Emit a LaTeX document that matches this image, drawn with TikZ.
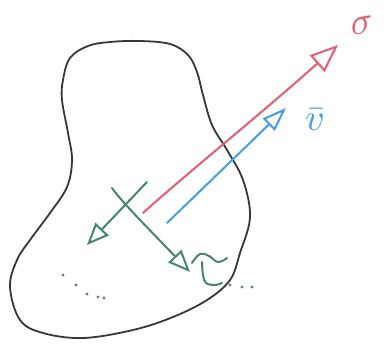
\documentclass[tikz,border=0pt]{standalone}
\usetikzlibrary{arrows.meta}
\definecolor{outl}{RGB}{55,55,55}
\definecolor{redp}{RGB}{232,92,112}
\definecolor{bluep}{RGB}{70,158,230}
\definecolor{greenp}{RGB}{70,133,113}
\definecolor{dotc}{RGB}{95,130,125}
\tikzset{
  sketch/.style={line width=2pt, line cap=round, line join=round},
  redarrow/.style={sketch, draw=redp, -{Triangle[open,length=28pt,width=22pt,line width=2pt]}},
  bluearrow/.style={sketch, draw=bluep, -{Triangle[open,length=24pt,width=17pt,line width=2pt]}},
  greenarrow/.style={sketch, draw=greenp, -{Triangle[open,length=22pt,width=18pt,line width=2pt]}},
  dotmark/.style={fill=dotc, draw=none},
  label/.style={inner sep=0pt},
}
\begin{document}
\begin{tikzpicture}[x=1pt,y=-1pt]
\useasboundingbox (0,0) rectangle (391,361);
% blob outline
\draw[sketch, draw=outl, line width=1.8pt] plot[smooth cycle, tension=0.6] coordinates {
 (63,80) (70,58) (88,46) (110,42) (140,41) (170,44) (188,55) (197,72) (203,95) (212,125)
 (227,150) (243,180) (250,217) (240,253) (230,280) (207,300) (173,317) (133,330)
 (83,338) (43,333) (20,320) (10,287) (17,260) (30,240) (50,213) (67,187) (72,160)
 (68,133) (62,100)};
% red arrow
\coordinate (rs) at (143,213);
\coordinate (re) at (338,45);
\draw[redarrow] (rs) .. controls (185,175) and (262,113) .. (re);
\node[label, text=redp, rotate=10] (sig) at (362,25) {\scalebox{3.8}{$\sigma$}};
% blue arrow
\coordinate (bs) at (167,223);
\coordinate (be) at (286,108);
\draw[bluearrow] (bs) -- (be);
\node[label, text=bluep] (vb) at (315,120) {\scalebox{3.8}{$\bar{v}$}};
% green arrows
\coordinate (g1s) at (147,182);
\coordinate (g1e) at (87,245);
\draw[greenarrow] (g1s) -- (g1e);
\coordinate (g2s) at (112,188);
\coordinate (g2e) at (190,272);
\draw[greenarrow] (g2s) .. controls (122,202) and (145,225) .. (g2e);
% squiggle
\draw[sketch, draw=greenp] plot[smooth, tension=0.7] coordinates {(192,263) (200,254) (209,256) (218,262) (227,258)};
\draw[sketch, draw=greenp] plot[smooth, tension=0.6] coordinates {(202,262) (203,275) (206,283) (215,285) (222,283)};
% dots
\foreach \p in {(63,275),(76,285),(87,294),(98,297),(104,298),(230,285),(242,287),(252,287)}
  \fill[dotmark] \p circle (1.7pt);
\end{tikzpicture}
\end{document}
